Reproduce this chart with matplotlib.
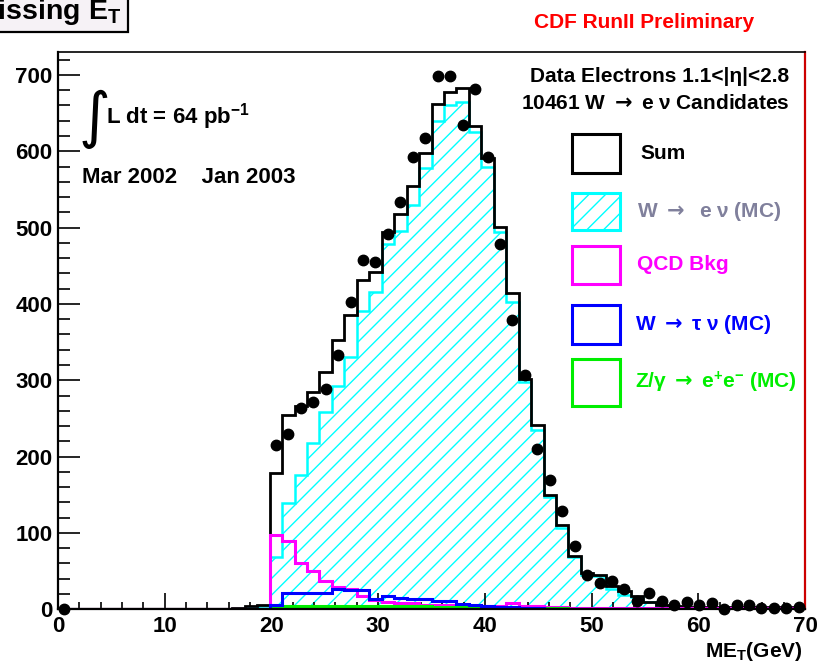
import numpy as np
import matplotlib.pyplot as plt
from matplotlib.patches import Rectangle
from matplotlib.ticker import MultipleLocator

plt.rcParams['font.family'] = ['Liberation Sans', 'DejaVu Sans']
plt.rcParams['font.weight'] = 'bold'
plt.rcParams['mathtext.fontset'] = 'custom'
plt.rcParams['mathtext.rm'] = 'Liberation Sans:bold'
plt.rcParams['mathtext.bf'] = 'Liberation Sans:bold'
plt.rcParams['mathtext.it'] = 'Liberation Sans:bold:italic'
plt.rcParams['mathtext.sf'] = 'DejaVu Sans'
plt.rcParams['hatch.linewidth'] = 1.0
plt.rcParams['hatch.color'] = '#00ffff'

# 60 bins between 0 and 70 GeV
met_lo, met_hi, nbins = 0.0, 70.0, 60

# summed prediction
h_sum = [0, 0, 0, 0, 0, 0, 0, 0, 0, 0, 0, 0, 0, 0, 2, 4, 6,
         178, 255, 266, 284, 311, 353, 385, 432, 442, 494, 518, 555, 598,
         662, 677, 683, 633, 591, 501, 414, 302, 241, 150, 111, 70, 48, 45,
         31, 24, 18, 10, 6, 4, 3, 3, 3, 3, 3, 3, 3, 3, 3, 3]
# W -> e nu MC
h_wenu = [0, 0, 0, 0, 0, 0, 0, 0, 0, 0, 0, 0, 0, 0, 1, 3, 4,
          68, 139, 176, 218, 258, 293, 330, 391, 415, 478, 495, 530, 578,
          640, 660, 665, 625, 580, 494, 402, 298, 235, 147, 107, 68, 45, 43,
          27, 19, 16, 9, 4, 3, 2, 1, 1, 1, 1, 1, 1, 1, 1, 1]
# QCD background
h_qcd = [0, 0, 0, 0, 0, 0, 0, 0, 0, 0, 0, 0, 0, 0, 0, 0, 0,
         97, 89, 61, 50, 37, 29, 26, 18, 12, 10, 8, 8, 6,
         6, 5, 5, 1, 4, 4, 8, 4, 4, 3, 3, 2, 2, 2,
         2, 2, 2, 2, 2, 2, 2, 2, 2, 2, 2, 2, 2, 2, 2, 2]
# W -> tau nu MC
h_wtau = [0, 0, 0, 0, 0, 0, 0, 0, 0, 0, 0, 0, 0, 0, 0, 0, 0,
          6, 22, 22, 21, 21, 26, 25, 25, 13, 17, 15, 13, 13,
          11, 11, 7, 6, 4, 3, 3, 2, 2, 1, 1, 1, 1, 0,
          0, 0, 0, 0, 0, 0, 0, 0, 0, 0, 0, 0, 0, 0, 0, 0]
# Z/gamma -> ee MC
h_zee = [0, 0, 0, 0, 0, 0, 0, 0, 0, 0, 0, 0, 0, 0, 0, 0, 0,
         3, 4, 4, 4, 4, 4, 4, 4, 4, 4, 4, 4, 4,
         3, 3, 3, 3, 3, 3, 2, 2, 2, 2, 2, 1, 1, 1,
         1, 1, 1, 1, 1, 1, 1, 1, 1, 1, 1, 1, 1, 1, 1, 1]
# small extra component
h_other = [0, 0, 0, 0, 0, 0, 0, 0, 0, 0, 0, 0, 0, 0, 0, 0, 0,
           0, 0, 2, 2, 2, 2, 0, 0, 0, 0, 0, 0, 0,
           0, 0, 0, 0, 0, 0, 0, 0, 0, 0, 0, 0, 0, 0,
           0, 0, 0, 0, 0, 0, 0, 0, 0, 0, 0, 0, 0, 0, 0, 0]
# data, nan = not drawn
nan = np.nan
h_data = [0, nan, nan, nan, nan, nan, nan, nan, nan, nan, nan, nan, nan, nan, nan, nan, nan,
          215, 229, 264, 271, 288, 333, 403, 458, 455, 491, 533, 593, 618,
          699, 699, 634, 682, 592, 478, 379, 307, 210, 170, 129, 83, 45, 35,
          37, 27, 11, 22, 11, 5, 10, 5, 8, 1, 6, 5, 2, 2, 2, 3]

edges = np.linspace(met_lo, met_hi, nbins + 1)
centers = 0.5 * (edges[1:] + edges[:-1])

W, H = 819, 667
def fx(x):
    return x / W
def fy(y):
    return 1 - y / H

fig = plt.figure(figsize=(W / 100, H / 100), dpi=100)
ax = fig.add_axes([fx(58), fy(609.3), (805 - 58) / W, (609.3 - 52) / H])

cyan, magenta, blue, green = '#00ffff', '#ff00ff', '#0000ff', '#00ee00'
arrow = r'$\mathsf{\rightarrow}$'

ax.stairs(h_wenu, edges, fill=True, facecolor='white', edgecolor=cyan,
          hatch='//', linewidth=0, zorder=1)
ax.stairs(h_wenu, edges, color=cyan, lw=1.8, zorder=2)
ax.stairs(h_sum, edges, color='black', lw=2.0, zorder=2.1)
ax.stairs(h_qcd, edges, color=magenta, lw=2.2, zorder=2.2)
ax.stairs(h_wtau, edges, color=blue, lw=2.2, zorder=2.3)
ax.stairs(h_zee, edges, color=green, lw=2.2, zorder=2.2)
ax.stairs(h_other, edges, color='#aa0000', lw=1.5, zorder=2.15)
ax.plot(centers, h_data, 'o', color='black', ms=7.5, clip_on=False, zorder=5)

ax.set_xlim(met_lo, met_hi)
ax.set_ylim(0, 730)
ax.xaxis.set_major_locator(MultipleLocator(10))
ax.xaxis.set_minor_locator(MultipleLocator(2))
ax.yaxis.set_major_locator(MultipleLocator(100))
ax.yaxis.set_minor_locator(MultipleLocator(20))
ax.tick_params(axis='x', which='major', direction='in', length=11.5, width=1.2,
               labelsize=16, pad=5)
ax.tick_params(axis='x', which='minor', direction='in', length=5, width=1.2)
ax.tick_params(axis='y', which='major', direction='in', length=16, width=1.2,
               labelsize=16, pad=4)
ax.tick_params(axis='y', which='minor', direction='in', length=8.5, width=1.2)
for lab in ax.get_xticklabels() + ax.get_yticklabels():
    lab.set_fontweight('bold')
ax.spines['left'].set_linewidth(1.6)
ax.spines['bottom'].set_linewidth(1.6)
ax.spines['top'].set_linewidth(1.2)
ax.spines['right'].set_color('#cc0000')
ax.spines['right'].set_linewidth(1.6)

# title box in the corner
fig.add_artist(Rectangle((fx(-10), fy(32)), 138 / W, 42 / H, transform=fig.transFigure,
                         facecolor='#f6f2f6', edgecolor='black', lw=1.6))
fig.text(fx(121), fy(19), r'Missing E$_{\mathbf{T}}$', ha='right', va='baseline',
         fontsize=20.5, fontweight='bold')

fig.text(fx(644), fy(28), 'CDF RunII Preliminary', ha='center', va='baseline',
         fontsize=15, fontweight='bold', color='#ff0000')
fig.text(fx(789), fy(82), 'Data Electrons 1.1<|η|<2.8', ha='right', va='baseline',
         fontsize=15, fontweight='bold')
fig.text(fx(790), fy(109), '10461 W ' + arrow + ' e ν Candidates', ha='right',
         va='baseline', fontsize=15, fontweight='bold')

fig.text(fx(79), fy(136), '∫', family='DejaVu Sans', fontsize=44, fontweight='normal',
         ha='left', va='baseline')
fig.text(fx(106), fy(124), r'L dt = 64 pb$^{\mathbf{-1}}$', ha='left', va='baseline',
         fontsize=16, fontweight='bold')
fig.text(fx(82), fy(183), 'Mar 2002    Jan 2003', ha='left', va='baseline',
         fontsize=16, fontweight='bold')

fig.text(fx(803), fy(657), r'ME$_{\mathbf{T}}$(GeV)', ha='right', va='baseline',
         fontsize=15, fontweight='bold')

# legend
leg_boxes = [(134, 173), (193, 230), (246, 284), (305, 344), (359, 406)]
leg_edge = ['black', cyan, magenta, blue, green]
leg_hatch = [None, '//', None, None, None]
leg_text = ['Sum', 'W ' + arrow + '  e ν (MC)', 'QCD Bkg', 'W ' + arrow + ' τ ν (MC)',
            r'Z/γ ' + arrow + r' e$^{\mathbf{+}}$e$^{\mathbf{-}}$ (MC)']
leg_tcol = ['black', '#80809c', magenta, blue, green]
leg_tx = [640, 637, 637, 635, 635]
for (y0, y1), ec, hat, txt, tc, tx in zip(leg_boxes, leg_edge, leg_hatch, leg_text,
                                          leg_tcol, leg_tx):
    fig.add_artist(Rectangle((fx(572), fy(y1)), 48 / W, (y1 - y0) / H,
                             transform=fig.transFigure, facecolor='white',
                             edgecolor=ec, hatch=hat, lw=2.2))
    fig.text(fx(tx), fy((y0 + y1) / 2), txt, ha='left', va='center',
             fontsize=15, fontweight='bold', color=tc)

fig.savefig('out.png', dpi=100)
